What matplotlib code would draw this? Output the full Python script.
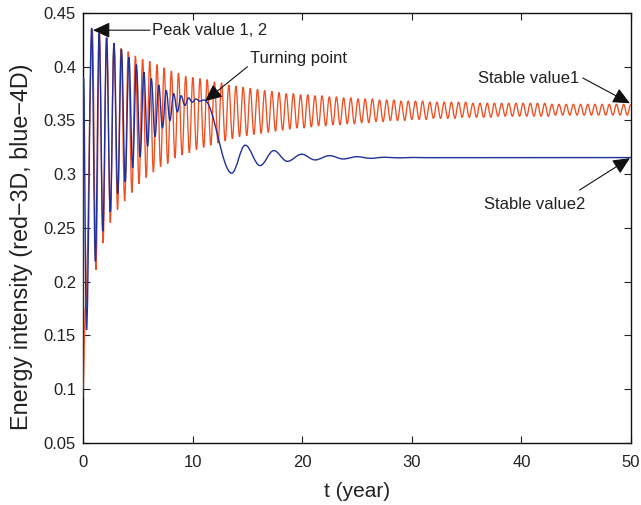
import numpy as np
import matplotlib
matplotlib.use('Agg')
import matplotlib.pyplot as plt
from matplotlib.path import Path
from matplotlib.patches import PathPatch

plt.rcParams['font.family'] = ['Liberation Sans', 'DejaVu Sans']

# ---------------- data (local extrema) ----------------
# red curve (3D): start, then alternating peaks / troughs
red_start_t = [0.0, 0.22]
red_start_v = [0.100, 0.176]

red_peak_t = [0.85, 1.50, 2.16, 2.82, 3.47, 4.13, 4.78, 5.44, 6.09, 6.75,
              7.40, 8.06, 8.71, 9.37, 10.02, 10.68, 11.33, 11.99, 12.64, 13.30,
              13.95, 14.61, 15.26, 15.92, 16.57, 17.23, 17.88, 18.54, 19.19, 19.85,
              20.50, 21.16, 21.81, 22.47, 23.12, 23.78, 24.43, 25.09, 25.74, 26.40,
              27.05, 27.71, 28.36, 29.02, 29.67, 30.33, 30.98, 31.64, 32.29, 32.95,
              33.60, 34.26, 34.91, 35.57, 36.22, 36.88, 37.53, 38.19, 38.84, 39.50,
              40.15, 40.81, 41.46, 42.12, 42.77, 43.43, 44.08, 44.74, 45.39, 46.05,
              46.70, 47.36, 48.01, 48.67, 49.32, 49.98]
red_peak_v = [0.434, 0.431, 0.427, 0.422, 0.417, 0.414, 0.410, 0.407, 0.405, 0.402,
              0.399, 0.396, 0.394, 0.391, 0.390, 0.389, 0.388, 0.386, 0.385, 0.383,
              0.382, 0.381, 0.380, 0.379, 0.378, 0.377, 0.376, 0.375, 0.375, 0.374,
              0.374, 0.373, 0.373, 0.372, 0.372, 0.371, 0.371, 0.370, 0.370, 0.370,
              0.369, 0.369, 0.369, 0.368, 0.368, 0.368, 0.368, 0.367, 0.367, 0.367,
              0.367, 0.367, 0.367, 0.366, 0.366, 0.366, 0.366, 0.366, 0.366, 0.366,
              0.366, 0.366, 0.366, 0.366, 0.365, 0.365, 0.365, 0.365, 0.365, 0.365,
              0.365, 0.365, 0.365, 0.365, 0.365, 0.365]
red_trough_t = [1.18, 1.83, 2.49, 3.15, 3.80, 4.46, 5.11, 5.77, 6.42, 7.08,
                7.73, 8.39, 9.04, 9.70, 10.35, 11.01, 11.66, 12.32, 12.97, 13.63,
                14.28, 14.94, 15.59, 16.25, 16.90, 17.56, 18.21, 18.87, 19.52, 20.18,
                20.83, 21.49, 22.14, 22.80, 23.45, 24.11, 24.76, 25.42, 26.07, 26.73,
                27.38, 28.04, 28.69, 29.35, 30.00, 30.66, 31.31, 31.97, 32.62, 33.28,
                33.93, 34.59, 35.24, 35.90, 36.55, 37.21, 37.86, 38.52, 39.17, 39.83,
                40.48, 41.14, 41.79, 42.45, 43.10, 43.76, 44.41, 45.07, 45.72, 46.38,
                47.03, 47.69, 48.34, 49.00, 49.65]
red_trough_v = [0.211, 0.236, 0.255, 0.267, 0.275, 0.283, 0.291, 0.297, 0.302, 0.307,
                0.310, 0.315, 0.318, 0.320, 0.323, 0.325, 0.327, 0.329, 0.331, 0.333,
                0.335, 0.336, 0.337, 0.338, 0.339, 0.340, 0.341, 0.342, 0.343, 0.343,
                0.344, 0.345, 0.345, 0.346, 0.346, 0.347, 0.347, 0.348, 0.348, 0.349,
                0.349, 0.350, 0.350, 0.350, 0.351, 0.351, 0.351, 0.352, 0.352, 0.352,
                0.352, 0.353, 0.353, 0.353, 0.353, 0.353, 0.354, 0.354, 0.354, 0.354,
                0.354, 0.354, 0.354, 0.354, 0.355, 0.355, 0.355, 0.355, 0.355, 0.355,
                0.355, 0.355, 0.355, 0.355, 0.355]

# blue curve (4D): alternating extrema
blue_t = [0.0, 0.04, 0.32, 0.79, 1.13, 1.47, 1.81, 2.15, 2.49, 2.83,
          3.17, 3.51, 3.85, 4.19, 4.53, 4.87, 5.21, 5.55, 5.89, 6.23,
          6.57, 6.91, 7.25, 7.59, 7.93, 8.27, 8.61, 8.95, 9.29, 9.63,
          9.97, 10.31, 10.65, 11.05, 13.57, 14.8, 16.15, 17.4, 18.64, 19.95,
          21.17, 22.48, 23.75, 24.97, 26.25, 27.5, 28.8, 30.1, 31.4, 50.0]
blue_v = [0.092, 0.390, 0.155, 0.436, 0.219, 0.431, 0.247, 0.427, 0.265, 0.422,
          0.282, 0.416, 0.293, 0.409, 0.306, 0.402, 0.316, 0.395, 0.326, 0.389,
          0.335, 0.383, 0.343, 0.378, 0.350, 0.375, 0.358, 0.373, 0.364, 0.371,
          0.367, 0.370, 0.368, 0.369, 0.301, 0.327, 0.308, 0.322, 0.312, 0.3186,
          0.3133, 0.3173, 0.3142, 0.3163, 0.3148, 0.3158, 0.3152, 0.3156, 0.3154, 0.3155]

x_ticks = [0, 10, 20, 30, 40, 50]
y_ticks = [0.05, 0.1, 0.15, 0.2, 0.25, 0.3, 0.35, 0.4, 0.45]
y_tick_labels = ['0.05', '0.1', '0.15', '0.2', '0.25', '0.3', '0.35', '0.4', '0.45']

RED = '#f24e20'
BLUE = '#22309a'
TXT = '#222222'

# merge red extrema in time order
red_t = list(red_start_t)
red_v = list(red_start_v)
for i in range(len(red_peak_t)):
    red_t.append(red_peak_t[i]); red_v.append(red_peak_v[i])
    if i < len(red_trough_t):
        red_t.append(red_trough_t[i]); red_v.append(red_trough_v[i])


def extrema_path(t, v, k=0.3634):
    """Smooth path through extrema (horizontal tangent at each extremum)."""
    verts = [(t[0], v[0])]
    codes = [Path.MOVETO]
    for i in range(len(t) - 1):
        dt = t[i + 1] - t[i]
        verts += [(t[i] + k * dt, v[i]), (t[i + 1] - k * dt, v[i + 1]), (t[i + 1], v[i + 1])]
        codes += [Path.CURVE4] * 3
    return Path(verts, codes)


fig = plt.figure(figsize=(6.41, 5.05), dpi=100)
ax = fig.add_axes([0.1295, 0.1228, 0.855, 0.8515])

ax.add_patch(PathPatch(extrema_path(red_t, red_v), facecolor='none',
                       edgecolor=RED, lw=0.95, zorder=3))
ax.add_patch(PathPatch(extrema_path(blue_t, blue_v), facecolor='none',
                       edgecolor=BLUE, lw=1.0, zorder=4))

ax.set_xlim(0, 50)
ax.set_ylim(0.05, 0.45)
ax.set_xticks(x_ticks)
ax.set_yticks(y_ticks)
ax.set_yticklabels(y_tick_labels)
ax.tick_params(direction='in', top=True, right=True, length=5, width=0.8,
               labelsize=12, colors=TXT)
ax.tick_params(axis='x', pad=9)
ax.tick_params(axis='y', pad=5)
for s in ax.spines.values():
    s.set_linewidth(1.0)
    s.set_color('#111111')

ax.set_xlabel('t (year)', fontsize=15, labelpad=8, color=TXT)
ax.set_ylabel('Energy intensity (red\u22123D, blue\u22124D)', fontsize=16.8, color=TXT)
ax.yaxis.set_label_coords(-0.092, 0.456)

arrow = dict(arrowstyle='-|>,head_length=0.65,head_width=0.3', color='#111111',
             lw=0.8, mutation_scale=16, shrinkA=0, shrinkB=0)
fs = 12
ax.text(6.3, 0.434, 'Peak value 1, 2', fontsize=fs, ha='left', va='center', color=TXT)
ax.annotate('', xy=(0.91, 0.434), xytext=(6.1, 0.434), arrowprops=arrow)

ax.text(15.2, 0.408, 'Turning point', fontsize=fs, ha='left', va='center', color=TXT)
ax.annotate('', xy=(11.13, 0.368), xytext=(15.0, 0.400), arrowprops=arrow)

ax.text(36.0, 0.3895, 'Stable value1', fontsize=fs, ha='left', va='center', color=TXT)
ax.annotate('', xy=(49.9, 0.366), xytext=(45.6, 0.3895), arrowprops=arrow)

ax.text(36.6, 0.2714, 'Stable value2', fontsize=fs, ha='left', va='center', color=TXT)
ax.annotate('', xy=(49.9, 0.315), xytext=(45.3, 0.2853), arrowprops=arrow)

fig.savefig('out.png', dpi=100)
